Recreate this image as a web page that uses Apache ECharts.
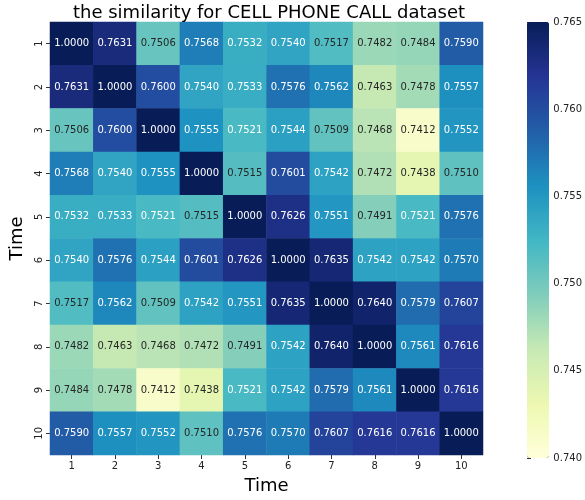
<!DOCTYPE html>
<html><head><meta charset="utf-8">
<script src="https://cdn.jsdelivr.net/npm/echarts@6/dist/echarts.min.js"></script>
<style>html,body{margin:0;padding:0;background:#fff}#c{width:585px;height:500px}</style>
</head><body><div id="c"></div>
<script>
const categories = ['1','2','3','4','5','6','7','8','9','10'];
const matrix = [
  [1.0000,0.7631,0.7506,0.7568,0.7532,0.7540,0.7517,0.7482,0.7484,0.7590],
  [0.7631,1.0000,0.7600,0.7540,0.7533,0.7576,0.7562,0.7463,0.7478,0.7557],
  [0.7506,0.7600,1.0000,0.7555,0.7521,0.7544,0.7509,0.7468,0.7412,0.7552],
  [0.7568,0.7540,0.7555,1.0000,0.7515,0.7601,0.7542,0.7472,0.7438,0.7510],
  [0.7532,0.7533,0.7521,0.7515,1.0000,0.7626,0.7551,0.7491,0.7521,0.7576],
  [0.7540,0.7576,0.7544,0.7601,0.7626,1.0000,0.7635,0.7542,0.7542,0.7570],
  [0.7517,0.7562,0.7509,0.7542,0.7551,0.7635,1.0000,0.7640,0.7579,0.7607],
  [0.7482,0.7463,0.7468,0.7472,0.7491,0.7542,0.7640,1.0000,0.7561,0.7616],
  [0.7484,0.7478,0.7412,0.7438,0.7521,0.7542,0.7579,0.7561,1.0000,0.7616],
  [0.7590,0.7557,0.7552,0.7510,0.7576,0.7570,0.7607,0.7616,0.7616,1.0000]
];
const colorbarTicks = [0.740,0.745,0.750,0.755,0.760,0.765];
const vmin = 0.740, vmax = 0.765;
const ylgnbu = ['#ffffd9','#edf8b1','#c7e9b4','#7fcdbb','#41b6c4','#1d91c0','#225ea8','#253494','#081d58'];

const data = [];
matrix.forEach((row, i) => row.forEach((v, j) => {
  data.push({value: [j, i, v], label: {color: v < 0.7519 ? '#262626' : '#ffffff'}});
}));

const FONT = 'DejaVu Sans';
const chart = echarts.init(document.getElementById('c'), null, {renderer: 'canvas'});
chart.setOption({
  animation: false,
  textStyle: {fontFamily: FONT},
  title: {
    text: 'the similarity for CELL PHONE CALL dataset',
    left: 264, textAlign: 'center', top: -1,
    textStyle: {fontFamily: FONT, fontSize: 18, fontWeight: 'normal', color: '#000'}
  },
  grid: [
    {left: 43, width: 440, top: 22, height: 436},
    {left: 527, width: 22, top: 22, height: 436}
  ],
  xAxis: [
    {type: 'category', data: categories, gridIndex: 0, position: 'bottom',
     name: 'Time', nameLocation: 'middle', nameGap: 22,
     nameTextStyle: {fontFamily: FONT, fontSize: 18, color: '#000'},
     axisLine: {show: false},
     axisTick: {show: true, alignWithLabel: true, length: 4, lineStyle: {color: '#333'}},
     axisLabel: {fontFamily: FONT, fontSize: 10, color: '#222', margin: 6},
     splitLine: {show: false}},
    {type: 'value', gridIndex: 1, show: false, min: 0, max: 1}
  ],
  yAxis: [
    {type: 'category', data: categories, gridIndex: 0, inverse: true,
     name: 'Time', nameLocation: 'middle', nameGap: 24, nameRotate: 90,
     nameTextStyle: {fontFamily: FONT, fontSize: 18, color: '#000'},
     axisLine: {show: false},
     axisTick: {show: true, alignWithLabel: true, length: 4, lineStyle: {color: '#333'}},
     axisLabel: {fontFamily: FONT, fontSize: 10, color: '#222', rotate: 90, margin: 6},
     splitLine: {show: false}},
    {type: 'value', gridIndex: 1, position: 'right', min: vmin, max: vmax, interval: 0.005,
     axisLine: {show: false},
     axisTick: {show: true, length: 4, lineStyle: {color: '#333'}},
     axisLabel: {fontFamily: FONT, fontSize: 10, color: '#222', margin: 6,
                 formatter: v => v.toFixed(3)},
     splitLine: {show: false}}
  ],
  visualMap: {
    type: 'continuous', min: vmin, max: vmax, seriesIndex: 0, dimension: 2,
    calculable: false, show: true, text: null, showLabel: false,
    left: 527, top: 22, itemWidth: 22, itemHeight: 436, padding: 0,
    inRange: {color: ylgnbu},
    outOfRange: {color: '#081d58'},
    textStyle: {color: 'transparent'}
  },
  series: [{
    type: 'heatmap', xAxisIndex: 0, yAxisIndex: 0, data: data,
    label: {show: true, fontFamily: FONT, fontSize: 10, formatter: p => p.value[2].toFixed(4)},
    itemStyle: {borderWidth: 0},
    emphasis: {disabled: true}
  }]
});
</script></body></html>
